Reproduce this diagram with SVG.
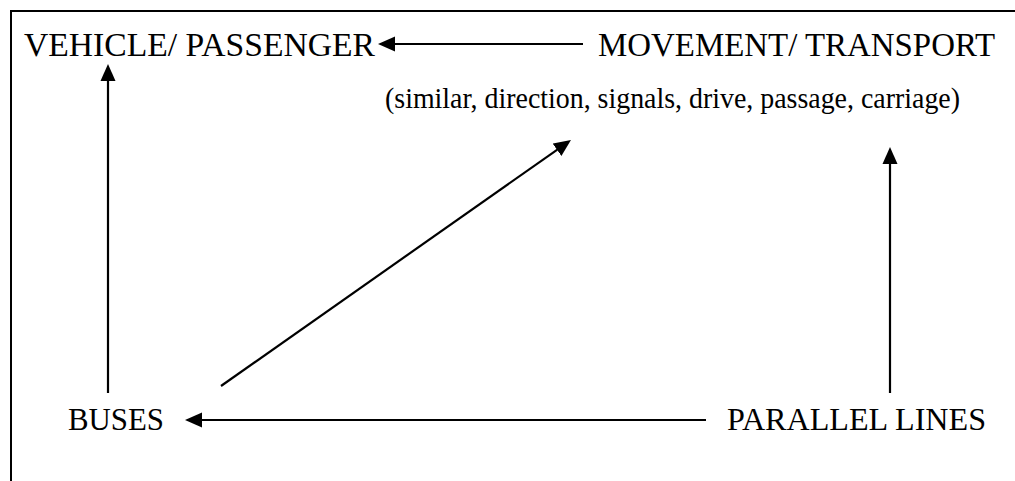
<svg xmlns="http://www.w3.org/2000/svg" width="1015" height="481" viewBox="0 0 1015 481">
<style>
.t{font-family:"Liberation Serif","Times New Roman",serif;font-size:32px;fill:#000}
.c{stroke:#000;stroke-width:2.2;fill:none}
</style>
<defs>
<marker id="ah" markerUnits="userSpaceOnUse" markerWidth="17" markerHeight="17" viewBox="0 0 17 17" refX="13" refY="8.5" orient="auto">
<path d="M0,1 L17,8.5 L0,16 z" fill="#000"/>
</marker>
</defs>
<rect width="1015" height="481" fill="#fff"/>
<g id="frame">
<path d="M1015,11 H11 V481" stroke="#000" stroke-width="2" fill="none"/>
</g>
<g id="vehicle"><text class="t" x="24" y="56" style="font-size:33.5px" textLength="351" lengthAdjust="spacingAndGlyphs">VEHICLE/ PASSENGER</text></g>
<g id="movement"><text class="t" x="598" y="56" style="font-size:33px" textLength="397" lengthAdjust="spacingAndGlyphs">MOVEMENT/ TRANSPORT</text></g>
<g id="similar"><text class="t" x="385" y="108" style="font-size:29.5px" textLength="575" lengthAdjust="spacingAndGlyphs">(similar, direction, signals, drive, passage, carriage)</text></g>
<g id="buses"><text class="t" x="68" y="430" textLength="96" lengthAdjust="spacingAndGlyphs">BUSES</text></g>
<g id="parallel"><text class="t" x="727" y="430" textLength="259" lengthAdjust="spacingAndGlyphs">PARALLEL LINES</text></g>
<g id="connectors" class="c">
<line x1="583" y1="44" x2="382" y2="44" marker-end="url(#ah)"/>
<line x1="108" y1="393" x2="108" y2="68" marker-end="url(#ah)"/>
<line x1="221" y1="386" x2="567.7" y2="142.3" marker-end="url(#ah)"/>
<line x1="890" y1="393" x2="890" y2="151" marker-end="url(#ah)"/>
<line x1="706" y1="420" x2="189" y2="420" marker-end="url(#ah)"/>
</g>
</svg>
